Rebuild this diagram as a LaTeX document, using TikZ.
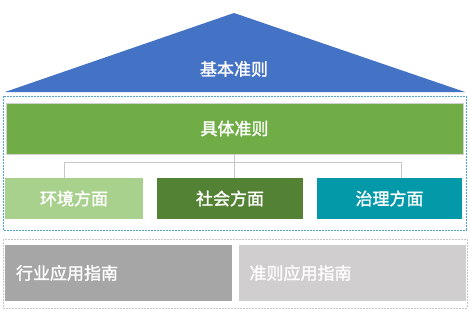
\documentclass[tikz,border=0pt]{standalone}
\usepackage{fontspec}
\usepackage{xcolor}
\usepackage{tikz}
\usetikzlibrary{positioning,calc}
\newfontfamily\cjk[FakeBold=1.5]{Noto Sans CJK SC}
\definecolor{roofblue}{HTML}{4472C4}
\definecolor{leafgreen}{HTML}{70AD47}
\definecolor{palegreen}{HTML}{A9D18E}
\definecolor{darkgreen}{HTML}{548235}
\definecolor{tealc}{HTML}{0399A8}
\definecolor{midgray}{HTML}{A6A6A6}
\definecolor{lightgray}{HTML}{D0CECE}
\definecolor{frameblue}{HTML}{4FA3D1}

\begin{document}
\begin{tikzpicture}[x=1pt,y=-1pt,
    lbl/.style={text=white,font=\cjk\fontsize{17}{19}\selectfont},
    tile/.style={lbl,rectangle,inner sep=0pt,minimum height=41pt},
    gtile/.style={lbl,rectangle,inner xsep=11pt,inner ysep=0pt,minimum height=56pt,
                  text width=205pt,align=left},
    conn/.style={-,draw=gray!45,line width=0.8pt},
    frame/.style={dashed,dash pattern=on 2pt off 1pt,line width=0.6pt}]
\useasboundingbox (0,0) rectangle (470,316);
% roof
\draw[fill=roofblue,draw=none] (5,92) -- (234,13) -- (465,92) -- cycle;
\node[lbl] (base) at (234,69) {基本准则};
% dashed frames
\draw[frame,draw=frameblue] (3,96) rectangle (466,230);
\draw[frame,draw=gray!45] (3,239) rectangle (467,308);
% main principle
\node[lbl,rectangle,fill=leafgreen,draw=gray!35,minimum width=457pt,minimum height=51pt,
      inner sep=0pt] (main) at (234.5,128.5) {具体准则};
% three aspects
\node[tile,fill=palegreen,minimum width=138pt] (env) at (74,198.5) {环境方面};
\node[tile,fill=darkgreen,minimum width=146pt] (soc) at (230,198.5) {社会方面};
\node[tile,fill=tealc,minimum width=145pt] (gov) at (389.5,198.5) {治理方面};
% connectors
\coordinate (barL) at (64,162);
\coordinate (barR) at (401,162);
\draw[conn] (barL) -- (barR);
\draw[conn] (main.south) -- (main.south |- soc.north);
\draw[conn] (barL) -- (barL |- env.north);
\draw[conn] (barR) -- (barR |- gov.north);
% guides
\node[gtile,fill=midgray] (ind) at (118.5,273) {行业应用指南};
\node[gtile,fill=lightgray] (app) at (352,273) {准则应用指南};
\end{tikzpicture}
\end{document}
